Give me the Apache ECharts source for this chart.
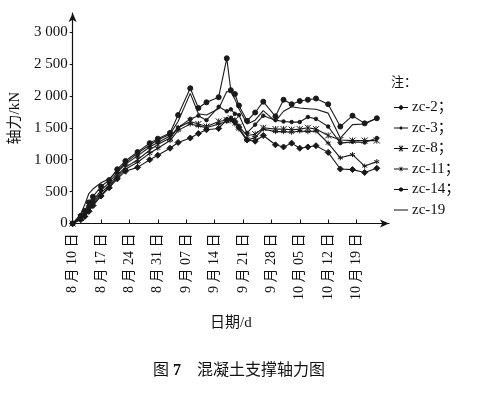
<!DOCTYPE html>
<html><head><meta charset="utf-8">
<script src="https://cdn.jsdelivr.net/npm/echarts@6/dist/echarts.min.js"></script>
<style>html,body{margin:0;padding:0;background:#fff}#c{width:478px;height:394px}</style>
</head><body><div id="c"></div>
<script>
// day offsets from 8月10日
const days = [0,2,3,4,5,7,9,11,13,16,19,21,24,26,29,31,33,36,38,39,40,41,43,45,47,50,52,54,56,58,60,63,66,69,72,75];
const dateLabels = ['8 月 10 日','8 月 17 日','8 月 24 日','8 月 31 日','9 月 07 日','9 月 14 日','9 月 21 日','9 月 28 日','10 月 05 日','10 月 12 日','10 月 19 日'];
const yTicks = [0,500,1000,1500,2000,2500,3000];
const seriesNames = ['zc-2','zc-3','zc-8','zc-11','zc-14','zc-19'];
const zc14 = [0,120,200,330,420,580,680,850,980,1120,1260,1330,1420,1700,2120,1810,1900,1980,2590,2090,2030,1850,1610,1740,1910,1680,1940,1870,1920,1940,1960,1870,1520,1690,1570,1650];
const zc19 = [0,150,300,470,540,640,700,820,950,1100,1230,1310,1400,1600,2040,1720,1700,1800,2070,2060,1950,1800,1560,1620,1770,1600,1760,1830,1810,1800,1790,1730,1340,1550,1560,1650];
const zc3  = [0,110,170,260,360,520,640,800,930,1060,1200,1270,1370,1500,1640,1690,1620,1830,1760,1790,1720,1700,1420,1550,1690,1620,1600,1590,1590,1670,1640,1520,1260,1280,1270,1340];
const zc8  = [0,90,150,240,330,480,600,760,880,1000,1150,1240,1340,1500,1600,1560,1520,1600,1620,1650,1620,1520,1380,1400,1500,1480,1480,1470,1480,1500,1480,1380,1310,1300,1300,1300];
const zc11 = [0,70,130,220,300,450,570,730,850,960,1100,1180,1300,1460,1560,1530,1500,1560,1600,1620,1560,1480,1300,1350,1480,1440,1440,1430,1450,1440,1450,1260,1030,1080,900,970];
const zc2  = [0,60,110,190,280,430,560,700,820,880,1000,1070,1180,1270,1340,1410,1470,1490,1625,1640,1600,1510,1310,1290,1380,1234,1200,1260,1180,1200,1220,1115,855,845,800,865];

const serif = '"Liberation Serif","Noto Sans CJK SC",serif';
const xMark = 'path://M0,0L10,10M10,0L0,10M5,0L5,10';
const star = 'path://M5,0L5,10M0.7,2.5L9.3,7.5M0.7,7.5L9.3,2.5';
// legend icons: 14x8 box (corner specks fix the bounding box)
const box = 'M0,0L0.01,0L0,0.01Z M14,8L13.99,8L14,7.99Z ';
const ln = 'M0,3.4L14,3.4L14,4.6L0,4.6Z ';
function oct(r){
  const c=7, k=r*0.414;
  return `M${c-k},${4-r}L${c+k},${4-r}L${c+r},${4-k}L${c+r},${4+k}L${c+k},${4+r}L${c-k},${4+r}L${c-r},${4+k}L${c-r},${4-k}Z`;
}
const legIcons = {
  'zc-2': 'path://' + box + ln + 'M7,1.3L9.7,4L7,6.7L4.3,4Z',
  'zc-3': 'path://' + box + ln + oct(1.5),
  'zc-8': 'path://' + box + ln + 'M4.6,1.6L5.3,1.1L9.4,6.4L8.7,6.9Z M8.7,1.1L9.4,1.6L5.3,6.9L4.6,6.4Z M6.6,1L7.4,1L7.4,7L6.6,7Z',
  'zc-11': 'path://' + box + ln + 'M5.2,2.3L5.8,1.9L8.8,5.7L8.2,6.1Z M8.2,1.9L8.8,2.3L5.8,6.1L5.2,5.7Z M6.7,1.6L7.3,1.6L7.3,6.4L6.7,6.4Z',
  'zc-14': 'path://' + box + ln + oct(2.1),
  'zc-19': 'path://' + box + ln
};
function mk(name, vals, symbol, size){
  return {
    name, type:'line', data: days.map((d,i)=>[d, vals[i]]),
    symbol, symbolSize:size, showSymbol: symbol!=='none',
    lineStyle:{color:'#1a1a1a', width:1.1},
    itemStyle:{color:'#1a1a1a', borderColor:'#1a1a1a', borderWidth:1},
    emphasis:{disabled:true}, animation:false
  };
}
const chart = echarts.init(document.getElementById('c'), null, {renderer:'canvas'});
chart.setOption({
  backgroundColor:'#fff',
  animation:false,
  grid:{left:67.5, right:89, top:13, bottom:170.5},
  title:{
    text:'{a|图 }{b|7}{a|    混凝土支撑轴力图}',
    left:'center', top:358,
    textStyle:{fontWeight:'normal', rich:{a:{fontSize:16, fontWeight:'normal', fontFamily:serif, color:'#111'}, b:{fontSize:16, fontWeight:'bold', fontFamily:serif, color:'#111'}}}
  },
  legend:{
    orient:'vertical', left:389, top:95, itemGap:5.5, itemWidth:14, itemHeight:8,
    symbolKeepAspect:true,
    data: seriesNames.map(n => ({name:n, icon:legIcons[n]})),
    itemStyle:{color:'#111', borderWidth:0, opacity:1},
    formatter: n => n === 'zc-19' ? n : n + '；',
    textStyle:{fontSize:15, fontFamily:serif, color:'#111', padding:[0,0,0,-1]}
  },
  graphic:[{type:'text', left:391, top:75, style:{text:'注：', font:'13px "Noto Sans CJK SC"', fill:'#111'}}],
  xAxis:{
    type:'value', min:0, max:78, interval:7,
    name:'日期/d', nameLocation:'middle', nameGap:92,
    nameTextStyle:{fontSize:15, fontFamily:serif, color:'#111'},
    axisLine:{lineStyle:{color:'#111', width:1.2}, symbol:['none','arrow'], symbolSize:[6,9]},
    axisTick:{inside:true, length:4, customValues:[7,14,21,28,35,42,49,56,63,70], lineStyle:{color:'#111'}},
    axisLabel:{rotate:90, margin:10, fontSize:14, fontFamily:serif, color:'#111',
      customValues:[0,7,14,21,28,35,42,49,56,63,70],
      formatter: v => dateLabels[Math.round(v/7)] || ''},
    splitLine:{show:false}
  },
  yAxis:{
    type:'value', min:0, max:3300, interval:500,
    name:'轴力/kN', nameLocation:'middle', nameGap:46, nameRotate:90,
    nameTextStyle:{fontSize:15, fontFamily:serif, color:'#111'},
    axisLine:{show:true, lineStyle:{color:'#111', width:1.2}, symbol:['none','arrow'], symbolSize:[6,9]},
    axisTick:{show:true, inside:false, length:3, customValues:yTicks, lineStyle:{color:'#111'}},
    axisLabel:{fontSize:15, fontFamily:serif, color:'#111', margin:5, customValues:yTicks,
      formatter: v => v >= 1000 ? Math.floor(v/1000) + ' ' + String(v%1000).padStart(3,'0') : String(v)},
    splitLine:{show:false}
  },
  series:[
    mk('zc-2', zc2, 'diamond', 6),
    mk('zc-3', zc3, 'circle', 3.5),
    mk('zc-8', zc8, xMark, 6),
    mk('zc-11', zc11, star, 5),
    mk('zc-14', zc14, 'circle', 5),
    mk('zc-19', zc19, 'none', 4)
  ]
});
</script></body></html>
